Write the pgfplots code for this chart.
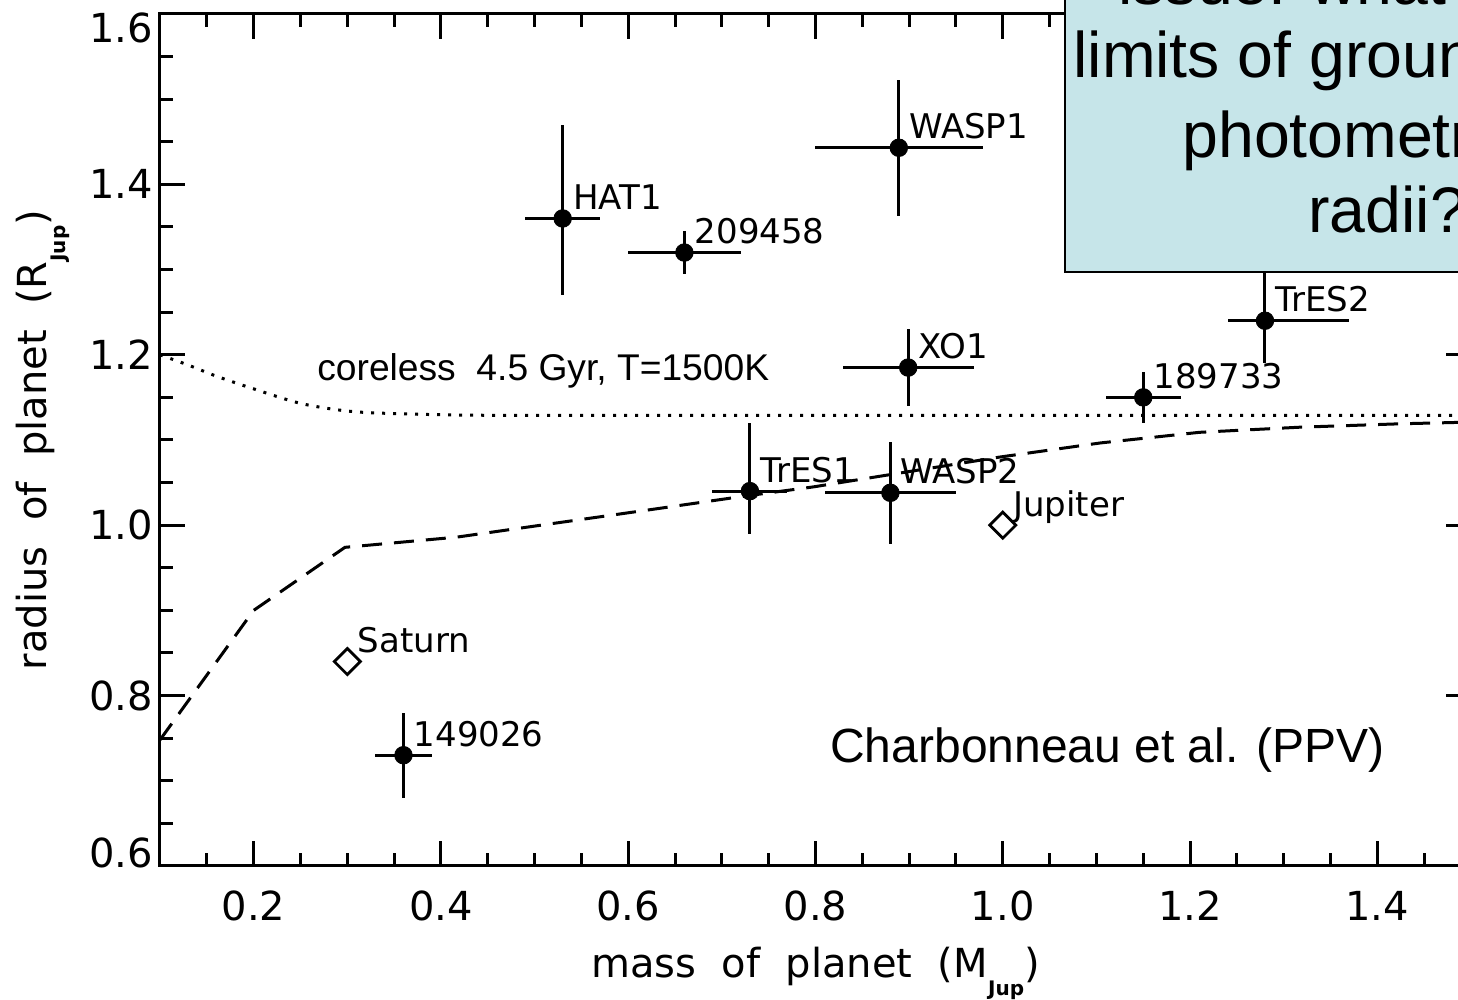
\documentclass[border=0pt]{standalone}
\usepackage{fontspec}
\setmainfont{DejaVu Sans}
\newfontfamily\arial{Liberation Sans}
\usepackage{pgfplots}
\usepackage{pgfplotstable}
\pgfplotsset{compat=1.18}
\definecolor{boxfill}{RGB}{198,229,233}
\tikzset{lab/.style={anchor=base west, xshift=5pt, yshift=4.5pt, inner sep=0pt, font=\fontsize{17}{20}\selectfont}}

\pgfplotstableread{
x     y     exp   exm   eyp   eym
0.53  1.36  0.04  0.04  0.11  0.09
0.66  1.32  0.06  0.06  0.025 0.025
0.889 1.443 0.09  0.09  0.08  0.08
0.899 1.185 0.07  0.07  0.045 0.045
1.28  1.24  0.09  0.04  0.09  0.05
1.15  1.15  0.04  0.04  0.03  0.03
0.73  1.04  0.04  0.04  0.08  0.05
0.88  1.038 0.07  0.07  0.06  0.06
0.36  0.73  0.03  0.03  0.05  0.05
}\planets

\begin{document}
\begin{tikzpicture}
\useasboundingbox (-80pt,-67pt) rectangle (649pt,433pt);
\clip (-80pt,-67pt) rectangle (649pt,433pt);
\begin{axis}[
  at={(0pt,0pt)}, anchor=south west,
  scale only axis, width=655.5pt, height=426pt,
  xmin=0.1, xmax=1.5, ymin=0.6, ymax=1.6,
  clip=false,
  axis line style={line width=1.5pt},
  every tick/.style={black, line width=1.5pt},
  major tick length=12.5pt, minor tick length=6.5pt,
  xtick={0.2,0.4,0.6,0.8,1.0,1.2,1.4},
  minor xtick={0.15,0.2,...,1.5},
  ytick={0.6,0.8,1.0,1.2,1.4,1.6},
  minor ytick={0.65,0.7,...,1.56},
  /pgf/number format/assume math mode=true,
  /pgf/number format/.cd, fixed, fixed zerofill, precision=1,
  /pgfplots/.cd,
  ticklabel style={font=\fontsize{20}{24}\selectfont},
  xticklabel style={yshift=-9pt},
  yticklabel={\pgfmathparse{\tick}\let\mytick=\pgfmathresult
    \ifdim\mytick pt<0.65pt \raisebox{-0.8pt}[0pt][0pt]{\pgfmathprintnumber{\tick}}%
    \else\ifdim\mytick pt>1.55pt \raisebox{-14.3pt}[0pt][0pt]{\pgfmathprintnumber{\tick}}%
    \else\raisebox{-7.3pt}[0pt][0pt]{\pgfmathprintnumber{\tick}}\fi\fi},
  xlabel={mass\ \ of\ \ planet\ \ (M\raisebox{-9pt}{\fontsize{10}{10}\selectfont\bfseries Jup})},
  ylabel={radius\ \ of\ \ planet\ \ (R\raisebox{-9.5pt}{\fontsize{10}{10}\selectfont\bfseries Jup})},
  label style={font=\fontsize{20}{24}\selectfont},
  xlabel style={at={(axis description cs:0.5,-0.1303)}, anchor=base},
  ylabel style={at={(axis description cs:-0.0862,0.5)}, anchor=base, rotate=0},
]
% coreless model (dotted)
\addplot[black, line width=1.5pt, dash pattern=on 1.5pt off 4pt, smooth] coordinates {
 (0.10,1.200) (0.13,1.188) (0.16,1.175) (0.20,1.160) (0.25,1.143) (0.30,1.134)
 (0.35,1.131) (0.45,1.129) (0.70,1.129) (1.00,1.129) (1.50,1.129)};
% core model (dashed)
\addplot[black, line width=1.5pt, dash pattern=on 10pt off 6pt] coordinates {
 (0.10,0.748) (0.20,0.900) (0.2975,0.974) (0.417,0.986) (0.526,1.003) (0.635,1.020)
 (0.717,1.033) (0.798,1.045) (0.997,1.080) (1.104,1.0965) (1.21,1.109) (1.317,1.115)
 (1.424,1.119) (1.50,1.121)};
% transiting planets
\addplot[only marks, black, mark=*, mark size=4.4pt,
  error bars/.cd, x dir=both, x explicit, y dir=both, y explicit, error mark=none,
  error bar style={line width=1.5pt, black}]
  table[x=x, y=y, x error plus=exp, x error minus=exm, y error plus=eyp, y error minus=eym] {\planets};
% solar system planets
\addplot[only marks, black, mark=square, mark size=4.6pt,
  mark options={rotate=45, line width=1.4pt, fill=white}] coordinates {(0.30,0.84) (1.0,1.0)};

\node[lab] at (axis cs:0.53,1.36) {HAT1};
\node[lab] at (axis cs:0.66,1.32) {209458};
\node[lab] at (axis cs:0.889,1.443) {WASP1};
\node[lab] at (axis cs:0.899,1.185) {XO1};
\node[lab] at (axis cs:1.28,1.24) {TrES2};
\node[lab] at (axis cs:1.15,1.15) {189733};
\node[lab] at (axis cs:0.73,1.04) {TrES1};
\node[lab] at (axis cs:0.88,1.038) {WASP2};
\node[lab] at (axis cs:0.36,0.73) {149026};
\node[lab] at (axis cs:0.30,0.84) {Saturn};
\node[lab] at (axis cs:1.0,1.0) {Jupiter};

\node[anchor=base west, inner sep=0pt, font=\arial\fontsize{18.6}{22}\selectfont]
  at (axis cs:0.2676,1.1704) {coreless\ \ 4.5 Gyr, T=1500K};
\node[anchor=base west, inner sep=0pt, font=\arial\fontsize{24}{28}\selectfont]
  at (axis cs:0.8154,0.722) {Charbonneau et al. (PPV)};
\end{axis}
% slide text box (partly outside the frame)
\fill[boxfill] (452.5pt,297pt) rectangle (720pt,470pt);
\draw[line width=1pt] (452.5pt,470pt) -- (452.5pt,297pt) -- (720pt,297pt);
\begin{scope}[every node/.style={anchor=base west, inner sep=0pt, font=\arial\fontsize{32.2}{39}\selectfont}]
\node at (479pt,430.5pt) {issue: what are the};
\node at (456.5pt,394pt) {limits of ground-based};
\node at (511pt,354pt) {photometric};
\node at (574pt,316.5pt) {radii?};
\end{scope}
\end{tikzpicture}
\end{document}
